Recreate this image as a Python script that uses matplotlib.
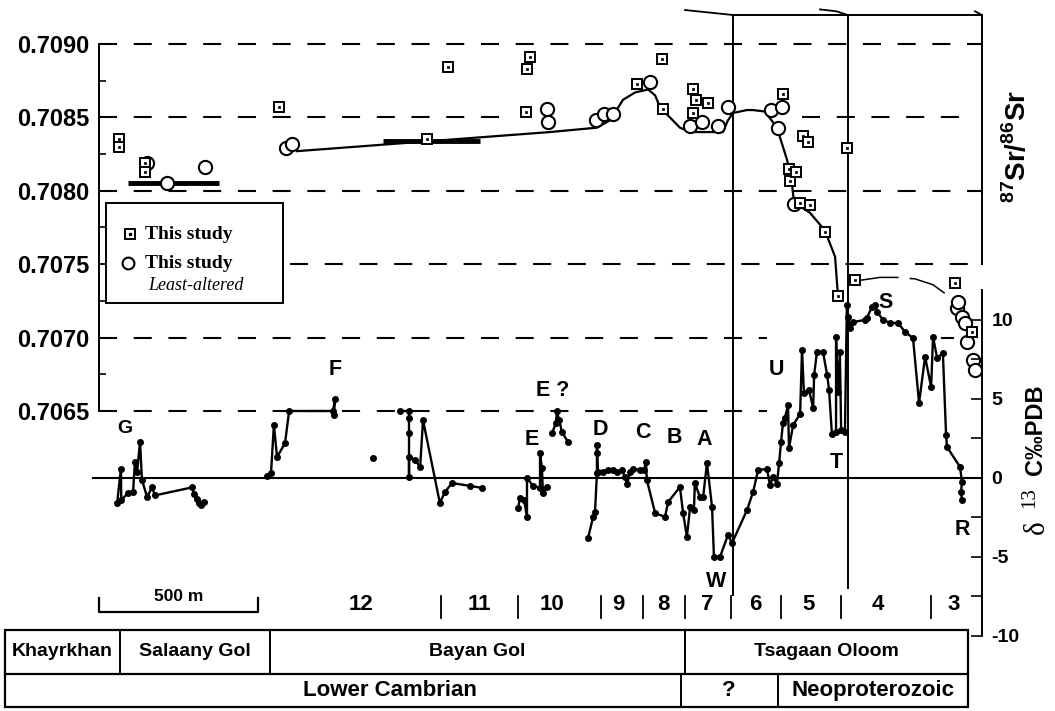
import matplotlib
matplotlib.use("Agg")
import matplotlib.pyplot as plt
from matplotlib.patches import Rectangle
from matplotlib.transforms import blended_transform_factory

plt.rcParams['font.family'] = ['Liberation Sans', 'DejaVu Sans']
plt.rcParams['font.weight'] = 'bold'
plt.rcParams['mathtext.fontset'] = 'custom'
plt.rcParams['mathtext.rm'] = 'Liberation Sans:bold'
plt.rcParams['mathtext.bf'] = 'Liberation Sans:bold'
plt.rcParams['lines.scale_dashes'] = False

# ---- Sr isotope data (x = composite section distance, m) ----
sq_x = [63, 63, 145, 145, 566, 1032, 1098, 1343, 1346, 1356, 1692, 1771, 1774, 1868, 1868, 1878,
        1915, 2151, 2170, 2173, 2192, 2205, 2214, 2230, 2236, 2283, 2324, 2352, 2378, 2692, 2746]
sq_sr = [0.70835, 0.70830, 0.70819, 0.70813, 0.70857, 0.70835, 0.70884, 0.70854, 0.70883, 0.70891,
         0.70873, 0.70890, 0.70856, 0.70869, 0.70853, 0.70862, 0.70860, 0.70866, 0.70815, 0.70807,
         0.70813, 0.70792, 0.70837, 0.70833, 0.70790, 0.70772, 0.70728, 0.70829, 0.70739, 0.70737,
         0.70704]

circ_x = [151, 214, 333, 588, 607, 1409, 1412, 1563, 1588, 1617, 1733, 1859, 1896, 1947, 1978,
          2113, 2135, 2148, 2186, 2698, 2702, 2714, 2724, 2730, 2749, 2755]
circ_sr = [0.70819, 0.70805, 0.70816, 0.70829, 0.70832, 0.70856, 0.70847, 0.70848, 0.70852, 0.70852,
           0.70874, 0.70844, 0.70847, 0.70844, 0.70857, 0.70855, 0.70843, 0.70857, 0.70791, 0.70720,
           0.70724, 0.70714, 0.70710, 0.70697, 0.70685, 0.70678]

curve_x = [623, 1418, 1566, 1607, 1648, 1686, 1727, 1749, 1764, 1827, 1859, 1962, 1978, 1994,
           2038, 2057, 2095, 2132, 2164, 2179, 2186, 2236, 2283, 2315, 2321, 2324]
curve_sr = [0.70827, 0.70840, 0.70843, 0.70848, 0.70862, 0.70867, 0.70869, 0.70865, 0.70857,
            0.70843, 0.70840, 0.70840, 0.70848, 0.70853, 0.70855, 0.70855, 0.70854, 0.70843,
            0.70821, 0.70805, 0.70792, 0.70785, 0.70773, 0.70755, 0.70737, 0.70729]

bar_x0 = [91, 893]
bar_x1 = [377, 1198]
bar_sr = [0.70805, 0.70834]

arc_x = [2393, 2456, 2510, 2566, 2623, 2667]
arc_sr = [0.70739, 0.70741, 0.70741, 0.70740, 0.70736, 0.70729]

# ---- carbon isotope segments ----
c1_x = [57, 69, 70, 91, 107, 113, 120, 129, 135, 151, 167, 176, 292, 300, 308, 315, 322, 330]
c1_d = [-1.6, 0.6, -1.4, -0.95, -0.9, 1.0, 0.4, 2.3, -0.1, -1.2, -0.6, -1.1, -0.6, -1.0, -1.3, -1.6, -1.7, -1.5]

c2_x = [528, 541, 550, 560, 585, 598, 736, 742, 739]
c2_d = [0.13, 0.3, 3.35, 1.33, 2.2, 4.24, 4.24, 5.0, 4.0]

c3_x = [862]
c3_d = [1.27]

c4_x = [947, 975, 975, 975, 975, 975, 994, 1010, 1019, 1072, 1088, 1110, 1167, 1205]
c4_d = [4.24, 4.24, 3.8, 2.85, 0.06, 1.33, 1.14, 0.7, 3.67, -1.58, -0.89, -0.32, -0.5, -0.63]

c5_x = [1318, 1324, 1337, 1346, 1346, 1365, 1387, 1387, 1393, 1396, 1409]
c5_d = [-1.9, -1.27, -1.4, -2.47, 0.0, -0.5, -0.63, 1.58, 0.63, -0.95, -0.57]

c6_x = [1425, 1437, 1440, 1447, 1456, 1475]
c6_d = [2.85, 3.48, 4.24, 3.67, 2.91, 2.28]

c7_x = [1538, 1554, 1560, 1566, 1566, 1566, 1569, 1585, 1601, 1617,
        1629, 1645, 1654, 1661, 1670, 1679, 1701, 1714, 1720, 1723,
        1749, 1780, 1790, 1827, 1837, 1849, 1859, 1871, 1874, 1890,
        1900, 1912, 1928, 1934, 1953, 1978, 1991, 2038, 2057, 2073,
        2101, 2110, 2120, 2132, 2139, 2145, 2151, 2157, 2167, 2170,
        2183, 2205, 2211, 2217, 2233, 2246, 2249, 2258, 2277, 2290,
        2296, 2305, 2318, 2318, 2324, 2330, 2334, 2346, 2352, 2356,
        2362, 2371, 2409, 2415, 2431, 2441, 2447, 2466, 2488, 2513,
        2535, 2560, 2579, 2598, 2617, 2623, 2636, 2654, 2664, 2667,
        2708, 2714, 2711, 2714]
c7_d = [-3.80, -2.47, -2.15, 0.32, 1.58, 2.09, 0.38, 0.38, 0.51, 0.51,
        0.38, 0.51, 0.06, -0.38, 0.38, 0.57, 0.51, 0.51, 1.01, -0.13,
        -2.22, -2.47, -1.52, -0.57, -2.22, -3.73, -1.84, -2.03, -0.32, -1.20,
        -1.20, 0.95, -1.84, -5.0, -5.0, -3.61, -4.11, -2.03, -0.89, 0.51,
        0.57, -0.44, 0.06, -0.38, 0.95, 2.28, 3.48, 3.80, 4.62, 1.90,
        3.35, 4.05, 8.10, 5.38, 5.57, 4.43, 6.52, 7.97, 7.97, 6.52,
        5.57, 2.78, 2.91, 8.92, 5.44, 7.97, 3.04, 2.91, 10.95, 10.19,
        9.49, 9.87, 10.0, 10.13, 10.82, 10.95, 10.51, 10.0, 9.81, 9.81,
        9.24, 8.86, 4.75, 7.66, 5.76, 8.92, 7.59, 7.91, 2.72, 1.96,
        0.70, -0.25, -0.89, -1.39]

carbon_segments = [(c1_x, c1_d), (c2_x, c2_d), (c3_x, c3_d), (c4_x, c4_d),
                   (c5_x, c5_d), (c6_x, c6_d), (c7_x, c7_d)]

# excursion labels
event_labels = ['G', 'F', 'E ?', 'E', 'D', 'C', 'B', 'A', 'W', 'U', 'T', 'S', 'R']
event_x = [82, 742, 1428, 1362, 1576, 1711, 1808, 1903, 1940, 2132, 2318, 2475, 2714]
event_d = [3.16, 6.84, 5.55, 2.41, 3.04, 2.91, 2.59, 2.41, -6.58, 6.84, 1.01, 11.08, -3.29]

# stratigraphic units
unit_names = ['12', '11', '10', '9', '8', '7', '6', '5', '4', '3']
unit_mid = [824, 1195, 1425, 1635, 1774, 1912, 2063, 2230, 2450, 2689]
unit_breaks = [1076, 1318, 1579, 1711, 1843, 1988, 2145, 2334, 2617]
unit_lines = [1994, 2356]

formations = ['Khayrkhan', 'Salaany Gol', 'Bayan Gol', 'Tsagaan Oloom']
formation_edges = [-296, 66, 538, 1843, 2733]
ages = ['Lower Cambrian', '?', 'Neoproterozoic']
age_edges = [-296, 1830, 2135, 2733]
age_label_x = [915, 1982, 2434]

sr_ticks = [0.7065, 0.7070, 0.7075, 0.7080, 0.7085, 0.7090]
c_ticks = [-10, -5, 0, 5, 10]

# ---- figure ----
fig = plt.figure(figsize=(10.55, 7.11), dpi=100)
ax = fig.add_axes([99 / 1055, 75 / 711, 883 / 1055, 621 / 711])
ax.set_xlim(0, 2777)
ax.set_ylim(0.704967, 0.7091975)
ax2 = ax.twinx()
ax2.set_ylim(-10, 29.3)

ax.spines['bottom'].set_visible(False)
ax.spines['left'].set_bounds(0.7065, 0.7090)
ax.spines['right'].set_bounds(0.7075, 0.7091975)
ax.spines['top'].set_bounds(1994, 2777)
for s in ['left', 'top', 'bottom']:
    ax2.spines[s].set_visible(False)
ax2.spines['right'].set_bounds(-10, 11.9)
for sp in list(ax.spines.values()) + list(ax2.spines.values()):
    sp.set_linewidth(1.4)

ax.set_xticks([])
ax.set_yticks(sr_ticks)
ax.set_yticklabels(['%.4f' % v for v in sr_ticks])
ax.set_yticks([v + 0.00025 for v in sr_ticks[:-1]], minor=True)
ax.tick_params(axis='y', which='major', direction='in', length=11, width=1.3,
               labelsize=17, pad=7)
ax.tick_params(axis='y', which='minor', direction='in', length=5, width=1.2)
ax2.set_yticks(c_ticks)
ax2.set_yticklabels([str(v) for v in c_ticks])
ax2.set_yticks([-7.5, -2.5, 2.5, 7.5], minor=True)
ax2.tick_params(axis='y', which='both', direction='in', length=8, width=1.2,
                labelsize=14, pad=7)

# dashed Sr reference lines
dash = (0, (13, 12))
ax.hlines(0.7090, 0, 2777, colors='k', lw=1.5, linestyles=dash)
ax.hlines(0.7085, 0, 1289, colors='k', lw=1.5, linestyles=dash)
ax.hlines(0.7085, 2212, 2730, colors='k', lw=1.5, linestyles=dash)
ax.hlines(0.7080, 0, 2777, colors='k', lw=1.5, linestyles=dash)
ax.hlines(0.7075, 601, 2777, colors='k', lw=1.5, linestyles=dash)
ax.hlines(0.7070, 0, 2101, colors='k', lw=1.5, linestyles=dash)
ax.hlines(0.7070, 2648, 2690, colors='k', lw=1.5)
ax.hlines(0.7065, 0, 2101, colors='k', lw=1.5, linestyles=dash)

# unit boundary lines and top edge
ax.axvline(unit_lines[0], ymin=0.066, ymax=0.997, color='k', lw=1.4)
ax.axvline(unit_lines[1], ymin=0.077, ymax=1.0, color='k', lw=1.4)
ax.plot([0.6637, 0.718], [1.008, 1.0], transform=ax.transAxes, color='k', lw=1.3, clip_on=False)
ax.plot([0.8165, 0.835, 0.848], [1.009, 1.006, 1.0], transform=ax.transAxes, color='k', lw=1.3, clip_on=False)
ax.plot([0.992, 1.0], [1.006, 1.0], transform=ax.transAxes, color='k', lw=1.3, clip_on=False)

# Sr curve, bars, arc and points
ax.plot(curve_x, curve_sr, color='k', lw=1.6, zorder=3)
for x0, x1, y in zip(bar_x0, bar_x1, bar_sr):
    ax.plot([x0, x1], [y, y], color='k', lw=3.5, solid_capstyle='butt', zorder=3)
ax.plot(arc_x, arc_sr, color='k', lw=1.1, linestyle=(0, (28, 8)), zorder=3)
ax.plot(circ_x, circ_sr, linestyle='none', marker='o', ms=9.5, mfc='white', mec='k', mew=1.5, zorder=4)
ax.plot(sq_x, sq_sr, linestyle='none', marker='s', ms=6.5, mfc='white', mec='k', mew=1.4, zorder=5)
ax.plot(sq_x, sq_sr, linestyle='none', marker='s', ms=1.8, mfc='k', mec='k', mew=0.5, zorder=6)

# carbon isotope curve
ax2.axhline(0, xmin=-0.007, xmax=1.0, color='k', lw=1.5, clip_on=False)
for xs, ds in carbon_segments:
    ax2.plot(xs, ds, color='k', lw=1.7, marker='o', ms=4, zorder=4)

for lab, x, d in zip(event_labels, event_x, event_d):
    ax2.text(x, d, lab, ha='center', va='center', fontsize=14 if lab == 'G' else 15.5)

# scale bar and unit numbers
tr = blended_transform_factory(ax2.transData, ax2.transAxes)
ax2.plot([0, 0, 500, 500], [0.061, 0.0386, 0.0386, 0.061], transform=tr, color='k', lw=1.6, clip_on=False)
ax2.text(250, 0.063, '500 m', transform=tr, ha='center', va='center', fontsize=12.5)
for nm, x in zip(unit_names, unit_mid):
    ax2.text(x, 0.05, nm, transform=tr, ha='center', va='center', fontsize=16)
for x in unit_breaks:
    ax2.plot([x, x], [0.029, 0.064], transform=tr, color='k', lw=1.3, clip_on=False)

# legend
ax2.add_patch(Rectangle((0.0079, 0.536), 0.2005, 0.161, transform=ax2.transAxes,
                        fc='white', ec='k', lw=1.4, zorder=7))
ax2.plot([0.0351], [0.647], transform=ax2.transAxes, marker='s', ms=6.5, mfc='white', mec='k', mew=1.4, zorder=8)
ax2.plot([0.0351], [0.647], transform=ax2.transAxes, marker='s', ms=1.8, color='k', zorder=9)
ax2.plot([0.0328], [0.6006], transform=ax2.transAxes, marker='o', ms=8.5, mfc='white', mec='k', mew=1.5, zorder=8)
ax2.text(0.052, 0.647, 'This study', transform=ax2.transAxes, ha='left', va='center',
         family='Liberation Serif', fontsize=14, zorder=8)
ax2.text(0.052, 0.6006, 'This study', transform=ax2.transAxes, ha='left', va='center',
         family='Liberation Serif', fontsize=14, zorder=8)
ax2.text(0.056, 0.565, 'Least-altered', transform=ax2.transAxes, ha='left', va='center',
         family='Liberation Serif', fontsize=13, style='italic', weight='normal', zorder=8)

# axis titles
ax.text(1.0396, 0.789, r'$^{87}\mathrm{Sr}/^{86}\mathrm{Sr}$', transform=ax.transAxes,
        rotation=90, ha='center', va='center', fontsize=20)
ax2.text(1.0625, 0.1755, 'δ', transform=ax2.transAxes, rotation=90, ha='center', va='center',
         family='Liberation Serif', weight='normal', fontsize=21)
ax2.text(1.0545, 0.2222, '13', transform=ax2.transAxes, rotation=90, ha='center', va='center',
         family='Liberation Serif', weight='normal', fontsize=15)
ax2.text(1.0605, 0.3317, 'C‰PDB', transform=ax2.transAxes, rotation=90, ha='center', va='center',
         fontsize=17)

# formation / age table
tab = fig.add_axes([5 / 1055, 4 / 711, 963 / 1055, 77 / 711])
tab.set_xlim(formation_edges[0], formation_edges[-1])
tab.set_ylim(0, 1)
tab.axis('off')
mid = 0.4286
tab.add_patch(Rectangle((formation_edges[0], 0), formation_edges[-1] - formation_edges[0], 1,
                        fill=False, ec='k', lw=1.6, clip_on=False))
tab.plot([formation_edges[0], formation_edges[-1]], [mid, mid], color='k', lw=1.6, clip_on=False)
for x in formation_edges[1:-1]:
    tab.plot([x, x], [mid, 1], color='k', lw=1.4, clip_on=False)
for x in age_edges[1:-1]:
    tab.plot([x, x], [0, mid], color='k', lw=1.4, clip_on=False)
for nm, a, b in zip(formations, formation_edges[:-1], formation_edges[1:]):
    tab.text((a + b) / 2, 0.72, nm, ha='center', va='center', fontsize=14)
for nm, x in zip(ages, age_label_x):
    tab.text(x, 0.21, nm, ha='center', va='center', fontsize=16)

fig.savefig('out.png', dpi=100)
